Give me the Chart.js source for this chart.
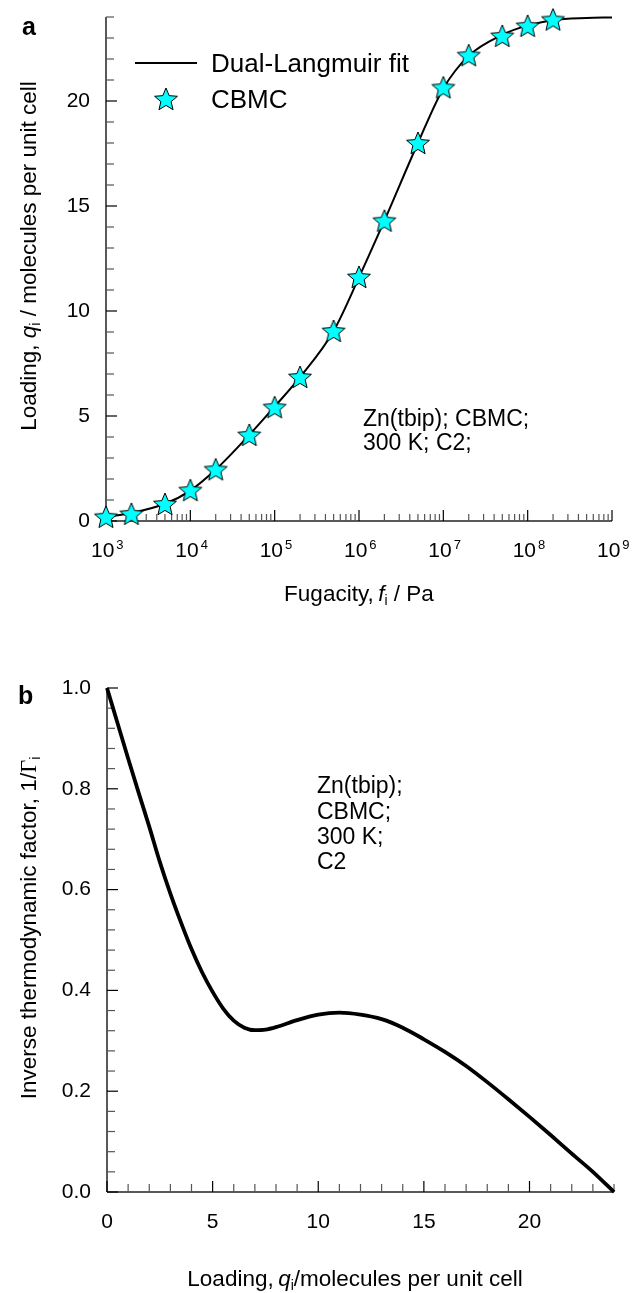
<!DOCTYPE html>
<html>
<head>
<meta charset="utf-8">
<script src="https://cdn.jsdelivr.net/npm/chart.js@4.4.0/dist/chart.umd.min.js"></script>
<style>
html, body { margin: 0; padding: 0; background: #fff; }
body { width: 634px; height: 1293px; position: relative; overflow: hidden; font-family: "Liberation Sans", Arial, sans-serif; color: #000; }
.cv { position: absolute; left: 0; }
.t { position: absolute; white-space: nowrap; line-height: 1; transform: translateY(-50%); }
.c { transform: translate(-50%, -50%); }
.r { transform: translate(-50%, -50%) rotate(-90deg); }
sub { font-size: 62%; vertical-align: -0.3em; line-height: 0; }
.lab { font-size: 22.5px; }
.ann { font-size: 23px; }
.pan { font-size: 25px; font-weight: bold; }
.leg { font-size: 26px; }
.gam { font-family: "Liberation Serif", "DejaVu Serif", serif; }
</style>
</head>
<body>
<canvas id="c1" class="cv" style="top:0" width="634" height="620"></canvas>
<canvas id="c2" class="cv" style="top:620px" width="634" height="673"></canvas>

<div class="t pan" style="left:22px; top:26px">a</div>
<div class="t pan" style="left:18px; top:695px">b</div>

<div class="t leg" style="left:211px; top:63px">Dual-Langmuir fit</div>
<div class="t leg" style="left:211px; top:99px">CBMC</div>

<div class="t ann" style="left:363px; top:418px">Zn(tbip); CBMC;</div>
<div class="t ann" style="left:363px; top:442px">300 K; C2;</div>

<div class="t ann" style="left:317px; top:785px">Zn(tbip);</div>
<div class="t ann" style="left:317px; top:811px">CBMC;</div>
<div class="t ann" style="left:317px; top:836px">300 K;</div>
<div class="t ann" style="left:317px; top:861px">C2</div>

<div class="t lab c" style="left:359px; top:594px">Fugacity,&thinsp;<i>f</i><sub>i</sub> / Pa</div>
<div class="t lab r" style="left:29px; top:256px">Loading, <i>q</i><sub>i</sub> / molecules per unit cell</div>

<div class="t lab c" style="left:355px; top:1279px">Loading,&thinsp;<i>q</i><sub>i</sub>/molecules per unit cell</div>
<div class="t lab r" style="left:29px; top:928px">Inverse thermodynamic factor, 1/<span class="gam">Γ</span><sub>i</sub></div>

<script>
// --- Data: panel a (isotherm) ---
const cbmcFugacity = [1e3, 2e3, 5e3, 1e4, 2e4, 5e4, 1e5, 2e5, 5e5, 1e6, 2e6, 5e6, 1e7, 2e7, 5e7, 1e8, 2e8];
const cbmcLoading = [0.2, 0.34, 0.81, 1.47, 2.46, 4.1, 5.42, 6.86, 9.05, 11.62, 14.3, 18.0, 20.65, 22.18, 23.1, 23.58, 23.88];

const fitFugacity = [1e3, 2e3, 5e3, 1e4, 2e4, 5e4, 1e5, 2e5, 5e5, 1e6, 2e6, 5e6, 1e7, 2e7, 5e7, 1e8, 2e8, 5e8, 1e9];
const fitLoading = [0.2, 0.38, 0.82, 1.45, 2.45, 4.1, 5.45, 6.85, 9.05, 11.6, 14.3, 18.0, 20.6, 22.15, 23.15, 23.6, 23.85, 23.95, 23.98];

// --- Data: panel b (inverse thermodynamic factor) ---
const loadingQ = [0, 0.5, 1, 1.5, 2, 2.5, 3, 3.5, 4, 4.5, 5, 5.5, 6, 6.5, 7, 7.5, 8, 9, 10, 11, 12, 13, 14, 15, 16, 17, 18, 19, 20, 21, 22, 23, 24];
const invGamma = [1.0, 0.93, 0.86, 0.792, 0.725, 0.655, 0.592, 0.535, 0.482, 0.436, 0.397, 0.364, 0.34, 0.326, 0.321, 0.322, 0.327, 0.341, 0.352, 0.356, 0.352, 0.343, 0.326, 0.303, 0.278, 0.25, 0.218, 0.184, 0.149, 0.113, 0.076, 0.04, 0.0];

// --- Ticks ---
const topYLabels = [0, 5, 10, 15, 20];
const topDecades = [3, 4, 5, 6, 7, 8, 9];
const botYLabels = [0.0, 0.2, 0.4, 0.6, 0.8, 1.0];
const botXLabels = [0, 5, 10, 15, 20];

const TICK_FONT = '21px "Liberation Sans", Arial, sans-serif';
const SUP_FONT = '13px "Liberation Sans", Arial, sans-serif';

// filled star used for the CBMC markers
function makeStar(R) {
    const c = document.createElement('canvas');
    const s = Math.ceil(R * 2 + 4);
    c.width = c.height = s;
    const g = c.getContext('2d');
    const cx = s / 2, cy = s / 2 + 1;
    g.beginPath();
    for (let i = 0; i < 10; i++) {
        const r = i % 2 ? R * 0.45 : R;
        const a = -Math.PI / 2 + i * Math.PI / 5;
        g.lineTo(cx + r * Math.cos(a), cy + r * Math.sin(a));
    }
    g.closePath();
    g.fillStyle = '#00FFFF';
    g.fill();
    g.lineWidth = 1;
    g.strokeStyle = '#000';
    g.stroke();
    return c;
}
const star = makeStar(12);

function line(ctx, x1, y1, x2, y2) {
    ctx.beginPath();
    ctx.moveTo(x1, y1);
    ctx.lineTo(x2, y2);
    ctx.stroke();
}

function drawAxesFrame(ctx, area) {
    ctx.strokeStyle = '#222';
    ctx.lineWidth = 1.5;
    line(ctx, area.left, area.top, area.left, area.bottom);
    line(ctx, area.left, area.bottom, area.right, area.bottom);
}

// --- Panel a axes ---
const axesA = {
    id: 'axesA',
    beforeDatasetsDraw(chart) {
        const { ctx, chartArea: a, scales: { x, y } } = chart;
        ctx.save();
        drawAxesFrame(ctx, a);
        ctx.lineWidth = 1.2;
        // y ticks every 1
        for (let v = 0; v <= y.max + 1e-9; v += 1) {
            const py = y.getPixelForValue(v);
            const major = topYLabels.includes(v);
            ctx.strokeStyle = major ? '#000' : '#555';
            line(ctx, a.left, py, a.left + (major ? 11 : 8), py);
        }
        // x log ticks
        topDecades.forEach((d, i) => {
            const px = x.getPixelForValue(Math.pow(10, d));
            ctx.strokeStyle = '#000';
            line(ctx, px, a.bottom, px, a.bottom - 11);
            if (i < topDecades.length - 1) {
                ctx.strokeStyle = '#555';
                for (let m = 2; m <= 9; m++) {
                    const pm = x.getPixelForValue(m * Math.pow(10, d));
                    line(ctx, pm, a.bottom, pm, a.bottom - 7);
                }
            }
        });
        // labels
        ctx.fillStyle = '#000';
        ctx.font = TICK_FONT;
        ctx.textAlign = 'right';
        ctx.textBaseline = 'middle';
        topYLabels.forEach(v => ctx.fillText(String(v), a.left - 16, y.getPixelForValue(v)));
        ctx.textAlign = 'left';
        topDecades.forEach(d => {
            const px = x.getPixelForValue(Math.pow(10, d));
            ctx.font = TICK_FONT;
            ctx.fillText('10', px - 15, a.bottom + 30);
            const w = ctx.measureText('10').width;
            ctx.font = SUP_FONT;
            ctx.fillText(String(d), px - 15 + w + 2, a.bottom + 24);
        });
        ctx.restore();
    },
    afterDraw(chart) {
        const ctx = chart.ctx;
        ctx.save();
        ctx.strokeStyle = '#000';
        ctx.lineWidth = 2;
        line(ctx, 135, 63, 197, 63);
        ctx.drawImage(star, 166 - star.width / 2, 99 - star.height / 2);
        ctx.restore();
    }
};

// --- Panel b axes ---
const axesB = {
    id: 'axesB',
    beforeDatasetsDraw(chart) {
        const { ctx, chartArea: a, scales: { x, y } } = chart;
        ctx.save();
        drawAxesFrame(ctx, a);
        ctx.lineWidth = 1.2;
        for (let k = 0; k <= 25; k++) {
            const v = k * 0.04;
            const py = y.getPixelForValue(v);
            const major = k % 5 === 0;
            ctx.strokeStyle = major ? '#000' : '#555';
            line(ctx, a.left, py, a.left + (major ? 11 : 8), py);
        }
        for (let v = 0; v <= x.max; v++) {
            const px = x.getPixelForValue(v);
            const major = botXLabels.includes(v);
            ctx.strokeStyle = major ? '#000' : '#555';
            line(ctx, px, a.bottom, px, a.bottom - (major ? 11 : 8));
        }
        ctx.fillStyle = '#000';
        ctx.font = TICK_FONT;
        ctx.textAlign = 'right';
        ctx.textBaseline = 'middle';
        botYLabels.forEach(v => ctx.fillText(v.toFixed(1), a.left - 16, y.getPixelForValue(v)));
        ctx.textAlign = 'center';
        botXLabels.forEach(v => ctx.fillText(String(v), x.getPixelForValue(v), a.bottom + 30));
        ctx.restore();
    }
};

Chart.defaults.font.family = '"Liberation Sans", Arial, sans-serif';

new Chart(document.getElementById('c1'), {
    type: 'scatter',
    data: {
        datasets: [
            {
                label: 'CBMC',
                data: cbmcFugacity.map((f, i) => ({ x: f, y: cbmcLoading[i] })),
                pointStyle: star,
                pointRadius: 12,
                showLine: false,
                clip: false
            },
            {
                label: 'Dual-Langmuir fit',
                data: fitFugacity.map((f, i) => ({ x: f, y: fitLoading[i] })),
                showLine: true,
                borderColor: '#000',
                borderWidth: 2,
                pointRadius: 0,
                cubicInterpolationMode: 'monotone',
                clip: false
            }
        ]
    },
    options: {
        responsive: false,
        animation: false,
        events: [],
        devicePixelRatio: 1,
        layout: { padding: { left: 106, top: 17, right: 22, bottom: 99 } },
        plugins: { legend: { display: false }, tooltip: { enabled: false } },
        scales: {
            x: { type: 'logarithmic', min: 1e3, max: 1e9, display: false },
            y: { type: 'linear', min: 0, max: 24, display: false }
        }
    },
    plugins: [axesA]
});

new Chart(document.getElementById('c2'), {
    type: 'scatter',
    data: {
        datasets: [{
            label: '1/Gamma',
            data: loadingQ.map((q, i) => ({ x: q, y: invGamma[i] })),
            showLine: true,
            borderColor: '#000',
            borderWidth: 3.8,
            pointRadius: 0,
            cubicInterpolationMode: 'monotone',
            clip: false
        }]
    },
    options: {
        responsive: false,
        animation: false,
        events: [],
        devicePixelRatio: 1,
        layout: { padding: { left: 107, top: 68, right: 20, bottom: 101 } },
        plugins: { legend: { display: false }, tooltip: { enabled: false } },
        scales: {
            x: { type: 'linear', min: 0, max: 24, display: false },
            y: { type: 'linear', min: 0, max: 1, display: false }
        }
    },
    plugins: [axesB]
});
</script>
</body>
</html>
